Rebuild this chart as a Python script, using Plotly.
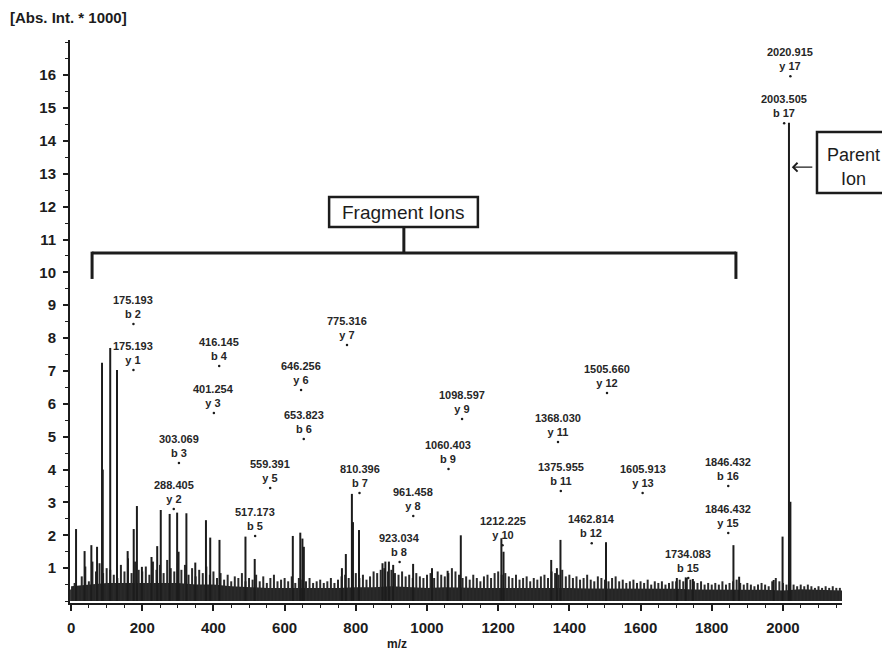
import plotly.graph_objects as go

# ---------------- data ----------------
# distinct peaks (m/z, intensity x1000)
peak_mz = [14, 38, 57, 73, 87, 89, 110, 129, 159, 176, 185, 199, 226, 242, 252, 277,
           298, 302, 324, 349, 379, 391, 417, 490, 516, 623, 644, 650, 654, 761, 772,
           789, 792, 809, 875, 883, 893, 905, 961, 1014, 1058, 1095, 1209, 1215, 1349,
           1365, 1375, 1503, 1702, 1727, 1747, 1861, 1877, 1974, 1999, 2017, 2021]
peak_int = [2.19, 1.52, 1.7, 1.65, 7.25, 4.0, 7.7, 7.03, 1.52, 2.19, 2.89, 1.04, 1.34, 1.67, 2.77, 2.65,
            2.69, 1.5, 2.67, 1.17, 2.46, 1.93, 1.86, 1.96, 1.28, 1.98, 2.08, 1.9, 1.65, 1.0, 1.43,
            3.26, 2.4, 2.16, 1.15, 1.2, 1.2, 1.1, 1.13, 1.0, 0.92, 2.0, 1.91, 1.5, 1.25,
            1.0, 1.86, 1.79, 0.7, 0.72, 0.67, 1.7, 0.74, 0.64, 1.96, 14.55, 3.02]

# background noise sticks, one every 10 m/z from 0 to 2170
noise_start, noise_step = 0, 10
noise_int = [
    0.35, 0.55, 0.45, 0.75, 1.05, 0.6, 1.2, 0.9, 1.15, 0.85,
    1.0, 0.95, 0.8, 0.7, 1.1, 0.9, 1.3, 0.85, 1.2, 0.95,
    0.9, 1.05, 0.8, 1.2, 0.95, 1.1, 0.85, 1.25, 1.0, 0.9,
    1.15, 0.95, 1.1, 0.8, 1.0, 0.75, 0.95, 0.85, 1.05, 0.8,
    0.9, 0.7, 0.85, 0.65, 0.8, 0.6, 0.75, 0.7, 0.85, 0.6,
    0.7, 0.65, 0.8, 0.6, 0.75, 0.55, 0.7, 0.8, 0.6, 0.65,
    0.7, 0.6, 0.75, 0.55, 0.7, 0.65, 0.6, 0.7, 0.55, 0.6,
    0.65, 0.55, 0.6, 0.7, 0.55, 0.65, 0.75, 0.8, 0.7, 0.9,
    0.85, 0.7, 0.8, 0.65, 0.75, 0.9, 0.85, 0.95, 1.0, 0.9,
    0.95, 0.85, 0.8, 0.9, 0.75, 0.8, 0.7, 0.85, 0.75, 0.7,
    0.8, 0.85, 0.7, 0.9, 0.8, 0.75, 0.85, 1.0, 0.9, 0.8,
    0.7, 0.75, 0.65, 0.8, 0.7, 0.6, 0.75, 0.8, 0.7, 0.85,
    0.9, 0.8, 0.85, 0.75, 0.7, 0.8, 0.65, 0.7, 0.75, 0.6,
    0.7, 0.65, 0.75, 0.8, 0.7, 0.9, 0.85, 0.8, 0.95, 0.75,
    0.8, 0.7, 0.75, 0.65, 0.7, 0.8, 0.65, 0.6, 0.75, 0.7,
    0.65, 0.6, 0.7, 0.75, 0.6, 0.65, 0.55, 0.6, 0.65, 0.55,
    0.6, 0.55, 0.65, 0.5, 0.6, 0.55, 0.6, 0.5, 0.55, 0.6,
    0.6, 0.65, 0.6, 0.7, 0.65, 0.6, 0.55, 0.6, 0.5, 0.55,
    0.5, 0.55, 0.5, 0.6, 0.5, 0.55, 0.6, 0.65, 0.55, 0.5,
    0.55, 0.5, 0.45, 0.5, 0.55, 0.5, 0.45, 0.6, 0.7, 0.6,
    0.55, 0.5, 0.6, 0.5, 0.45, 0.5, 0.45, 0.5, 0.45, 0.4,
    0.45, 0.4, 0.45, 0.4, 0.45, 0.4, 0.4, 0.35,
]

# dense dark baseline band
band_mz = [0, 50, 100, 150, 200, 250, 300, 350, 400, 450, 500, 550, 600, 650, 700, 750,
           800, 850, 900, 950, 1000, 1050, 1100, 1150, 1200, 1250, 1300, 1350, 1400, 1450,
           1500, 1550, 1600, 1650, 1700, 1750, 1800, 1850, 1900, 1950, 2000, 2050, 2100,
           2150, 2170]
band_int = [0.45, 0.5, 0.55, 0.55, 0.55, 0.55, 0.55, 0.5, 0.5, 0.45, 0.42, 0.4, 0.4, 0.4, 0.38, 0.4,
            0.42, 0.42, 0.45, 0.42, 0.4, 0.42, 0.4, 0.4, 0.4, 0.4, 0.4, 0.42, 0.4, 0.38,
            0.38, 0.37, 0.36, 0.36, 0.37, 0.35, 0.34, 0.34, 0.34, 0.34, 0.32, 0.36, 0.34,
            0.33, 0.32]

# labelled ions
label_mz = ["175.193", "175.193", "288.405", "303.069", "401.254", "416.145", "517.173",
            "559.391", "646.256", "653.823", "775.316", "810.396", "923.034", "961.458",
            "1060.403", "1098.597", "1212.225", "1368.030", "1375.955", "1462.814",
            "1505.660", "1605.913", "1734.083", "1846.432", "1846.432", "2003.505", "2020.915"]
label_ion = ["b 2", "y 1", "y 2", "b 3", "y 3", "b 4", "b 5", "y 5", "y 6", "b 6", "y 7",
             "b 7", "b 8", "y 8", "b 9", "y 9", "y 10", "y 11", "b 11", "b 12", "y 12",
             "y 13", "b 15", "b 16", "y 15", "b 17", "y 17"]
label_int = [8.43, 7.03, 2.8, 4.2, 5.72, 7.15, 1.98, 3.44, 6.42, 4.93, 7.79, 3.29, 1.19, 2.59,
             4.02, 5.54, 1.7, 4.84, 3.35, 1.76, 6.33, 3.29, 0.70, 3.5, 2.07, 14.54, 15.97]

x_tick_vals = list(range(0, 2001, 200))
y_tick_vals = list(range(1, 17))

# ---------------- figure ----------------
INK = "#1c1c1c"
FONT = "Liberation Sans, Arial, sans-serif"


def sticks(xs, ys):
    sx, sy = [], []
    for x, y in zip(xs, ys):
        sx += [x, x, None]
        sy += [0, y, None]
    return sx, sy


noise_mz = [noise_start + i * noise_step for i in range(len(noise_int))]

fig = go.Figure()
fig.add_trace(go.Scatter(x=band_mz, y=band_int, mode="lines", fill="tozeroy",
                         fillcolor="#262626", line=dict(width=0, color="#262626"),
                         hoverinfo="skip"))
nx, ny = sticks(noise_mz, noise_int)
fig.add_trace(go.Scatter(x=nx, y=ny, mode="lines", line=dict(width=2, color="#2a2a2a"),
                         hoverinfo="skip"))
px_, py_ = sticks(peak_mz, peak_int)
fig.add_trace(go.Scatter(x=px_, y=py_, mode="lines", line=dict(width=2, color=INK)))

lab_x = [float(v) for v in label_mz]
fig.add_trace(go.Scatter(x=lab_x, y=label_int, mode="markers",
                         marker=dict(size=2.5, color=INK)))

for x, y, t, ion in zip(lab_x, label_int, label_mz, label_ion):
    fig.add_annotation(x=x, y=y, text=f"{t}<br>{ion}", showarrow=False,
                       xanchor="center", yanchor="bottom", yshift=2,
                       font=dict(family=FONT, size=11, color="#262626", weight="bold"))

# Fragment Ions bracket
bw = 3
fig.add_shape(type="line", x0=59, x1=1868, y0=10.59, y1=10.59, line=dict(color=INK, width=bw))
fig.add_shape(type="line", x0=59, x1=59, y0=10.63, y1=9.8, line=dict(color=INK, width=bw))
fig.add_shape(type="line", x0=1868, x1=1868, y0=10.63, y1=9.8, line=dict(color=INK, width=bw))
fig.add_shape(type="line", x0=935, x1=935, y0=10.59, y1=11.38, line=dict(color=INK, width=bw))
fig.add_shape(type="rect", x0=725, x1=1143, y0=11.38, y1=12.29, line=dict(color=INK, width=2.5),
              fillcolor="white")
fig.add_annotation(x=934, y=11.835, text="Fragment Ions", showarrow=False,
                   font=dict(family=FONT, size=19, color=INK))

# Parent Ion box + arrow
fig.add_shape(type="rect", xref="paper", yref="paper", x0=0.9676, x1=1.0816, y0=0.7282, y1=0.8366,
              line=dict(color=INK, width=2.5), fillcolor="white")
fig.add_annotation(xref="paper", yref="paper", x=0.9780, y=0.7957, xanchor="left",
                   yanchor="middle", text="Parent", showarrow=False,
                   font=dict(family=FONT, size=18, color=INK))
fig.add_annotation(xref="paper", yref="paper", x=1.0150, y=0.7531, xanchor="center",
                   yanchor="middle", text="Ion", showarrow=False,
                   font=dict(family=FONT, size=18, color=INK))
fig.add_annotation(x=2025, y=13.2, ax=22, ay=0, text="", showarrow=True, arrowhead=4,
                   arrowsize=1.3, arrowwidth=1.3, arrowcolor=INK)

# axis titles
fig.add_annotation(xref="paper", yref="paper", x=-0.0803, y=1.0408, xanchor="left",
                   yanchor="middle", text="[Abs. Int. * 1000]", showarrow=False,
                   font=dict(family=FONT, size=15, color=INK, weight="bold"))
fig.add_annotation(xref="paper", yref="paper", x=0.4236, y=-0.0888, xanchor="center",
                   yanchor="bottom", text="m/z", showarrow=False,
                   font=dict(family=FONT, size=12, color=INK, weight="bold"))

fig.update_layout(
    width=882, height=654, margin=dict(l=70, r=40, t=40, b=51),
    paper_bgcolor="white", plot_bgcolor="white", showlegend=False,
    font=dict(family=FONT, color=INK),
)
fig.update_xaxes(range=[-3, 2166], tickvals=x_tick_vals, ticks="outside", ticklen=6,
                 tickwidth=1.5, tickcolor=INK, showline=True, linewidth=2, linecolor=INK,
                 showgrid=False, zeroline=False, mirror=False,
                 tickfont=dict(family=FONT, size=15, color=INK, weight="bold"),
                 ticklabelstandoff=4,
                 minor=dict(dtick=50, tick0=0, ticks="outside", ticklen=3, tickcolor=INK,
                            tickwidth=1.2, showgrid=False))
fig.update_yaxes(range=[-0.06, 17.07], tickvals=y_tick_vals, ticks="outside", ticklen=5,
                 tickwidth=1.5, tickcolor=INK, showline=True, linewidth=2, linecolor=INK,
                 showgrid=False, zeroline=False,
                 tickfont=dict(family=FONT, size=15, color=INK, weight="bold"),
                 ticklabelstandoff=4,
                 minor=dict(dtick=0.5, tick0=0, ticks="outside", ticklen=3, tickcolor=INK,
                            tickwidth=1.2, showgrid=False))

fig.write_html("out.html")
